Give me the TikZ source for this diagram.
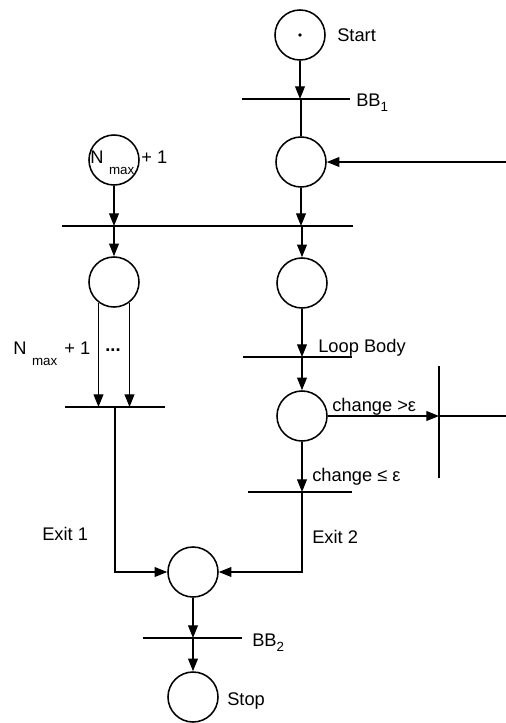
\documentclass[tikz,border=0pt]{standalone}
\usepackage{fontspec}
\setmainfont{Liberation Sans}
\usetikzlibrary{positioning,arrows.meta,calc}
\newcommand{\Nmaxlab}{N\hspace{4pt}\raisebox{-8.5pt}{\fontsize{9.5}{11}\selectfont max}\hspace{5pt}+ 1}
\newcommand{\bblab}[1]{BB\raisebox{-4pt}{\fontsize{9.5}{11}\selectfont #1}}
\tikzset{
  place/.style={circle, draw, line width=1.1pt, minimum size=1.25cm, inner sep=0pt},
  bar/.style={fill=black, inner sep=0pt, minimum height=1.6pt},
  vbar/.style={fill=black, inner sep=0pt, minimum width=1.4pt},
  flow/.style={line width=0.9pt, -{Triangle[length=9pt,width=7pt]}},
  wire/.style={line width=0.9pt},
  lab/.style={anchor=base west, inner sep=0pt, font=\fontsize{13}{15}\selectfont},
}

\begin{document}
\begin{tikzpicture}[x=0.025cm, y=-0.025cm]
  \useasboundingbox (0,0) rectangle (506,723);
  % places
  \node[place] (start) at (300,35) {};
  \fill (start.center) circle (1.3pt);
  \node[place] (c2) at (301,162) {};
  \node[place] (nmax) at (114,160) {};
  \node[place] (lc) at (114,282) {};
  \node[place] (c3) at (302,283) {};
  \node[place] (c4) at (302,416) {};
  \node[place] (join) at (193,572) {};
  \node[place] (stop) at (193,697) {};
  % transitions
  \node[bar, minimum width=2.7cm] (bb1) at (296,99) {};
  \node[bar, minimum width=7.275cm] (fork) at (207.5,226) {};
  \node[bar, minimum width=2.5cm] (lbar) at (115,407) {};
  \node[bar, minimum width=2.725cm] (body) at (297.5,357) {};
  \node[bar, minimum width=2.6cm] (done) at (300,492) {};
  \node[bar, minimum width=2.475cm] (bb2) at (192.5,638) {};
  \node[vbar, minimum height=2.8cm] (loop) at (439,422) {};
  \coordinate (backin) at (506,162);
  \coordinate (backout) at (506,416);
  % arcs
  \draw[flow] (start) -- (start |- bb1);
  \draw[wire] (c2 |- bb1) -- (c2);
  \draw[flow] (backin) -- (c2);
  \draw[flow] (c2) -- (c2 |- fork);
  \draw[flow] (c3 |- fork) -- (c3);
  \draw[flow] (nmax) -- (nmax |- fork);
  \draw[flow] (lc |- fork) -- (lc);
  \draw[flow] (lc.-127) -- (lc.-127 |- lbar);
  \draw[flow] (lc.-53) -- (lc.-53 |- lbar);
  \draw[flow] (c3) -- (c3 |- body);
  \draw[flow] (c4 |- body) -- (c4);
  \draw[flow] (c4) -- (c4 -| loop);
  \draw[wire] (c4 -| loop) -- (backout);
  \draw[flow] (c4) -- (c4 |- done);
  \draw[flow] (lbar.center) |- (join);
  \draw[flow] (c4 |- done) |- (join);
  \draw[flow] (join) -- (join |- bb2);
  \draw[flow] (join |- bb2) -- (stop);
  % labels
  \node[lab] (tstart) at (337,42) {Start};
  \node[lab] (tbb1) at (356,106) {\bblab{1}};
  \node[lab] (tnmax) at (90,163) {\Nmaxlab};
  \node[lab] (tcount) at (13,354) {\Nmaxlab};
  \node[inner sep=0pt, font=\bfseries\fontsize{13}{15}\selectfont] (dots) at (113,350) {...};
  \node[lab] (tbody) at (318,352) {Loop Body};
  \node[lab] (tgt) at (332,411) {change >ε};
  \node[lab] (tle) at (312,481) {change ≤ ε};
  \node[lab] (texit1) at (42,540) {Exit 1};
  \node[lab] (texit2) at (312,543) {Exit 2};
  \node[lab] (tbb2) at (252,646) {\bblab{2}};
  \node[lab] (tstop) at (227,705) {Stop};
\end{tikzpicture}
\end{document}
